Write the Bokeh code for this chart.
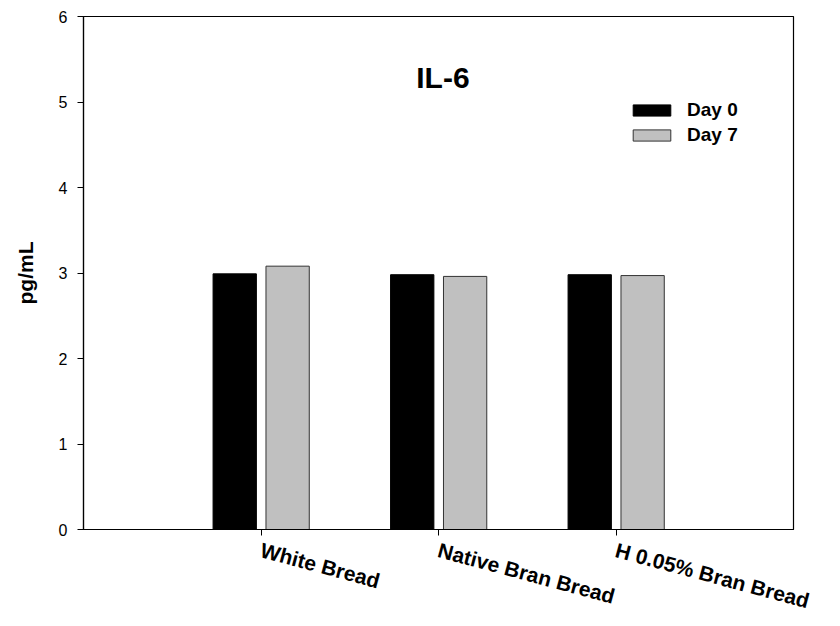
from bokeh.plotting import figure
from bokeh.models import ColumnDataSource, FixedTicker, Legend, LegendItem, Label
from bokeh.transform import dodge
from bokeh.embed import file_html
from bokeh.resources import INLINE

# IL-6 concentration (pg/mL) per bread group, before and after 7 days
categories = ["White Bread", "Native Bran Bread", "H 0.05% Bran Bread"]
positions = [1, 2, 3]
day0 = [2.99, 2.98, 2.98]
day7 = [3.08, 2.96, 2.97]
y_ticks = [0, 1, 2, 3, 4, 5, 6]

FONT = "Liberation Sans"

source = ColumnDataSource(data=dict(x=positions, cat=categories, day0=day0, day7=day7))

p = figure(width=840, height=626, x_range=(0, 4), y_range=(0, 6),
           output_backend="svg", toolbar_location=None,
           min_border_left=83, min_border_right=47,
           min_border_top=16, min_border_bottom=96)

p.background_fill_color = "white"
p.border_fill_color = "white"
p.outline_line_color = "black"
p.outline_line_width = 1.2
p.xgrid.visible = False
p.ygrid.visible = False

bar_w = 0.244
r0 = p.vbar(x=dodge("x", -0.148), top="day0", width=bar_w, source=source,
            fill_color="black", line_color="black", line_width=1)
r7 = p.vbar(x=dodge("x", 0.150), top="day7", width=bar_w, source=source,
            fill_color="#c0c0c0", line_color="#333333", line_width=1)

# y axis
ya = p.yaxis[0]
ya.ticker = FixedTicker(ticks=y_ticks)
ya.minor_tick_line_color = None
ya.major_tick_in = 0
ya.major_tick_out = 6
ya.major_tick_line_color = "black"
ya.axis_line_color = "black"
ya.axis_line_width = 1.2
ya.major_label_text_font = FONT
ya.major_label_text_font_size = "16px"
ya.major_label_text_color = "black"
ya.major_label_standoff = 10
ya.axis_label = "pg/mL"
ya.axis_label_text_font = FONT
ya.axis_label_text_font_size = "21px"
ya.axis_label_text_font_style = "bold"
ya.axis_label_text_color = "black"
ya.axis_label_standoff = 19

# x axis
xa = p.xaxis[0]
xa.ticker = FixedTicker(ticks=positions)
xa.major_label_overrides = {pos: cat for pos, cat in zip(positions, categories)}
xa.minor_tick_line_color = None
xa.major_tick_in = 0
xa.major_tick_out = 6
xa.major_tick_line_color = "black"
xa.axis_line_color = "black"
xa.axis_line_width = 1.2
xa.major_label_orientation = -0.2618
xa.major_label_text_font = FONT
xa.major_label_text_font_size = "21px"
xa.major_label_text_font_style = "bold"
xa.major_label_text_line_height = 1.0
xa.major_label_text_color = "black"
xa.major_label_standoff = 14

# title inside the plotting area
p.add_layout(Label(x=2.025, y=5.29, text="IL-6", text_align="center",
                   text_baseline="middle", text_font=FONT,
                   text_font_size="30px", text_font_style="bold",
                   text_color="black"))

legend = Legend(items=[LegendItem(label="Day 0", renderers=[r0]),
                       LegendItem(label="Day 7", renderers=[r7])],
                location=(545, 383), orientation="vertical")
legend.glyph_width = 47
legend.glyph_height = 14
legend.label_height = 14
legend.spacing = 3
legend.padding = 0
legend.margin = 0
legend.label_standoff = 12
legend.border_line_alpha = 0
legend.background_fill_alpha = 0
legend.label_text_font = FONT
legend.label_text_font_size = "19px"
legend.label_text_font_style = "bold"
legend.label_text_color = "black"
p.add_layout(legend)

open("out.html", "w").write(file_html(p, INLINE))
